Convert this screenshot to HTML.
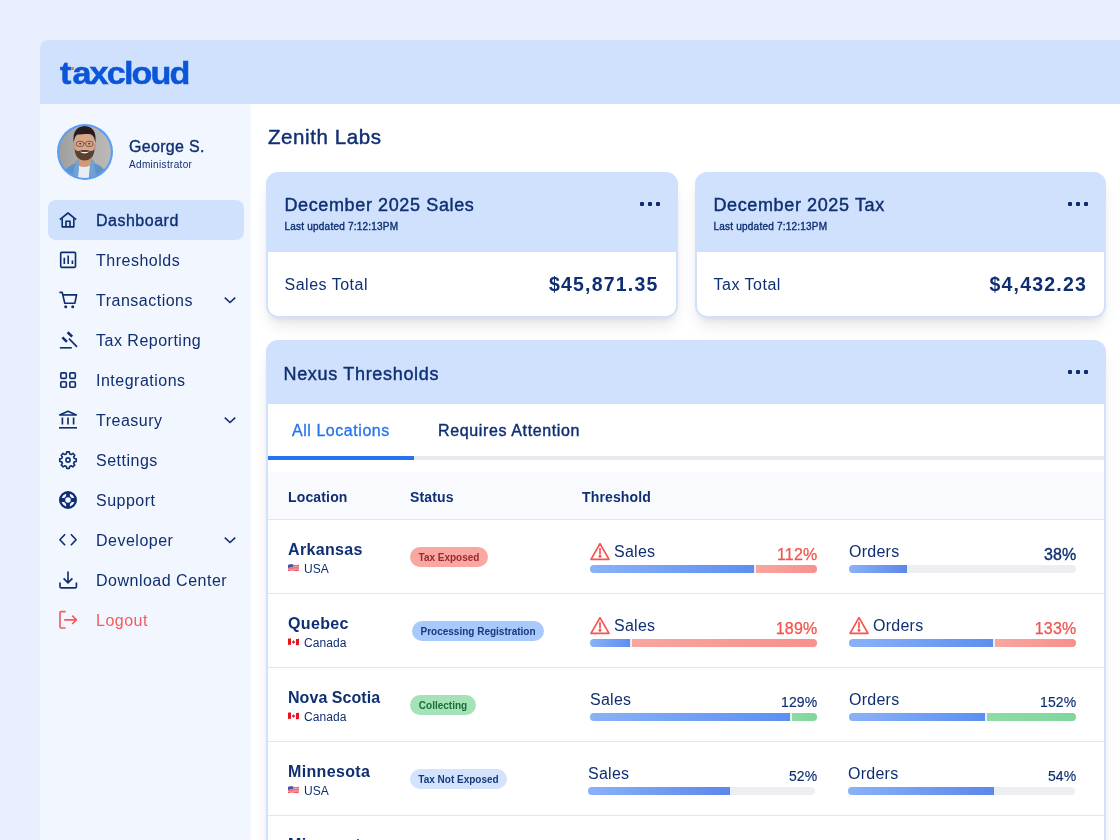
<!DOCTYPE html>
<html lang="en">
<head>
<meta charset="utf-8">
<title>TaxCloud Dashboard</title>
<style>
*{box-sizing:border-box;margin:0;padding:0}
html,body{width:1120px;height:840px;overflow:hidden}
body{background:#e9effe;font-family:"Liberation Sans",Arial,sans-serif;color:#0f2f72;position:relative}
.abs{position:absolute}
#logo::first-letter{letter-spacing:1px}
.t{position:absolute;white-space:nowrap;line-height:1}
.m{-webkit-text-stroke:0.35px currentColor}
.m2{-webkit-text-stroke:0.42px currentColor}
.app{will-change:transform;filter:blur(.3px);position:absolute;left:40px;top:40px;width:1100px;height:820px;background:#fff;border-top-left-radius:8px;overflow:hidden}
.hdr{position:absolute;left:0;top:0;width:1100px;height:64px;background:#cfe1fd}
.side{position:absolute;left:0;top:64px;width:212px;height:760px;background:linear-gradient(90deg,#f2f6fe 209px,#fff 212.5px)}
.nav{position:absolute;left:8px;width:196px;height:40px;border-radius:8px}
.nav.on{background:#cfe1fd}
.nav .lbl{position:absolute;left:48px;top:13px;font-size:16px;line-height:1;white-space:nowrap;letter-spacing:.5px}
.nav svg.ic{position:absolute;left:10px;top:10px;width:20px;height:20px;fill:none;stroke:#0f2f72;stroke-width:1.65;stroke-linecap:butt;stroke-linejoin:round}
.nav svg.ch{position:absolute;left:176.2px;top:16px;width:12px;height:8px;fill:none;stroke:#0f2f72;stroke-width:1.6;stroke-linecap:butt;stroke-linejoin:miter}

.card{position:absolute;background:#fff;border:2px solid #cfe1fd;border-radius:12px;overflow:hidden;box-shadow:0 10px 15px -3px rgba(0,0,0,.1),0 4px 6px -4px rgba(0,0,0,.1)}
.chd{position:absolute;left:0;top:0;right:0;background:#cfe1fd}
.dots{position:absolute;width:22px;height:4px}
.dots i{position:absolute;top:0;width:4px;height:4px;border-radius:1px;background:#0c2a6c}
.dots i:nth-child(1){left:0}.dots i:nth-child(2){left:8px}.dots i:nth-child(3){left:16px}
.th{font-size:14px;font-weight:bold;letter-spacing:.15px}
.row{position:absolute;left:0;width:836px;height:74px;border-bottom:1px solid #e4e6eb}
.loc{left:20px;top:22.1px;font-size:16px;font-weight:bold;letter-spacing:.35px}
.cty{left:20px;top:42.5px;font-size:12px;letter-spacing:.1px}
.flag{width:11px;height:7.6px;margin-right:5px;vertical-align:.6px}
.bdg{position:absolute;top:27px;height:20px;border-radius:10px;font-size:10px;font-weight:bold;line-height:20px;padding-top:1px;text-align:center;white-space:nowrap}
.bdg.red{background:#f9a7a3;color:#9a2a2c}
.bdg.blu{background:#a9c8fb;color:#173a7c}
.bdg.grn{background:#a4e3b8;color:#1b6b3b}
.bdg.lbl2{background:#d3e3fd;color:#173a7c}
.warn{position:absolute;width:20px;height:19px;fill:none;stroke:#f4564f;stroke-width:1.7;stroke-linejoin:round;stroke-linecap:round}
.ml{top:24px;font-size:16px;letter-spacing:.25px}
.pr{top:26.5px;font-size:16px;letter-spacing:.2px}
.pr.r{color:#f2534e;-webkit-text-stroke:.25px #f2534e}
.pr.mb{-webkit-text-stroke:.35px currentColor}
.pr.s{font-size:14px;top:27px;-webkit-text-stroke:.15px currentColor}
.bar{position:absolute;top:45px;height:8px;border-radius:4px;background:#eceef2;overflow:hidden}
.bar b{position:absolute;top:0;height:8px}
.bar .bl{background:linear-gradient(90deg,#8ab2f8,#5c8ff0)}
.bar .bl.e{background:linear-gradient(90deg,#8ab2f8,#5c86ea)}
.bar .rd{background:linear-gradient(90deg,#f7a6a0,#f8908c)}
.bar .gn{background:linear-gradient(90deg,#8edba7,#7fd69c)}
</style>
</head>
<body>
<div class="app">
  <div class="hdr">
    <!-- logo -->
    <div class="t" id="logo" style="left:20px;top:16.6px;font-size:32px;font-weight:bold;color:#0b55d9;letter-spacing:-1.7px;transform:scaleX(1.066);transform-origin:0 0;-webkit-text-stroke:.5px #0b55d9">taxcloud</div>
    <div class="abs" style="left:30.6px;top:26.6px;width:3.8px;height:3.6px;border-radius:1px;background:#f47a20"></div>
  </div>
  <div class="side">
    <!-- avatar -->
    <svg class="abs" style="left:17px;top:20px" width="56" height="56" viewBox="0 0 56 56">
      <defs><clipPath id="av"><circle cx="28" cy="28" r="25.9"/></clipPath>
      <linearGradient id="avbg" x1="0" x2="1" y1="0" y2="0"><stop offset="0" stop-color="#9b9b9a"/><stop offset=".45" stop-color="#aeaeac"/><stop offset="1" stop-color="#bcbbb8"/></linearGradient>
      <filter id="avb" x="-5%" y="-5%" width="110%" height="110%"><feGaussianBlur stdDeviation=".55"/></filter></defs>
      <circle cx="28" cy="28" r="28" fill="#5c9cf7"/>
      <g clip-path="url(#av)"><g filter="url(#avb)">
        <rect x="-2" y="-2" width="60" height="60" fill="url(#avbg)"/>
        <path d="M4 58 C5 46 10 43 18 39.5 L21 35 L35 35 L38 39.5 C45 42 50 46 51 58 Z" fill="#5f93c8"/>
        <path d="M19.5 41 L21 58 L31.5 58 L33 41 Z" fill="#e9edf2"/>
        <path d="M20 34 L34.5 34 L34.5 41 Q27 45 20 41 Z" fill="#cf9a79"/>
        <path d="M18.5 39 L21.5 35 L22 45 L20.5 58 L14 58 Z" fill="#6fa2d4"/>
        <path d="M37 39 L34 35 L33 45 L32 58 L40 58 Z" fill="#6fa2d4"/>
        <ellipse cx="27.6" cy="21" rx="10.2" ry="13.4" fill="#d9a688"/>
        <ellipse cx="17.2" cy="22" rx="1.3" ry="2.6" fill="#cf987a"/>
        <ellipse cx="38" cy="22" rx="1.3" ry="2.6" fill="#cf987a"/>
        <path d="M17.6 24 C17.8 33 22 36.4 27.6 36.4 C33.2 36.4 37.4 33 37.6 24 C36 28 34.5 27 31.5 26.4 C29 26 26 26 23.5 26.4 C20.6 27 19.2 28 17.6 24 Z" fill="#5b3f30"/>
        <path d="M22.6 27.4 Q27.6 31.6 32.6 27.4 Q27.6 28.6 22.6 27.4 Z" fill="#f3efec"/>
        <path d="M16.8 19 C15 7 21 2 27.6 2 C34.6 2 40 7 38.4 19 C37.6 13.5 36 10.4 32 10 C28 9.6 24 10.6 21 10.6 C18.6 11 17.4 14 16.8 19 Z" fill="#2c1f1a"/>
        <rect x="19.4" y="17.4" width="7.4" height="5" rx="2.2" fill="none" stroke="#5a4a42" stroke-width=".8"/>
        <rect x="28.6" y="17.4" width="7.4" height="5" rx="2.2" fill="none" stroke="#5a4a42" stroke-width=".8"/>
        <path d="M26.8 19.4 H28.6" stroke="#5a4a42" stroke-width=".7"/>
        <ellipse cx="23.2" cy="19.8" rx="1.1" ry=".8" fill="#3a2a22"/>
        <ellipse cx="32.2" cy="19.8" rx="1.1" ry=".8" fill="#3a2a22"/>
      </g></g>
    </svg>
    <div class="t m" style="left:89px;top:35px;font-size:16px;letter-spacing:.3px">George S.</div>
    <div class="t" style="left:89px;top:56.3px;font-size:10px;letter-spacing:.33px">Administrator</div>

    <!-- NAV -->
    <div class="nav on" style="top:96px"><svg class="ic" viewBox="0 0 20 20"><path d="M1.8 9.6 L10 3 L18.2 9.6"/><path d="M4.2 8.2 V16.8 H15.8 V8.2"/><path d="M8 16.8 V11.2 H12 V16.8"/></svg><span class="lbl m">Dashboard</span></div>
    <div class="nav" style="top:136px"><svg class="ic" viewBox="0 0 20 20"><rect x="2.7" y="2.3" width="14.8" height="15" rx="1"/><path d="M6.3 14 V7.8 M10.2 14 V5.4 M14.4 14 V10.6"/></svg><span class="lbl">Thresholds</span></div>
    <div class="nav" style="top:176px"><svg class="ic" viewBox="0 0 20 20"><path d="M1.4 2.4 H4.2 L6.8 13.2 H16.9 L18.5 4.9 H5"/><circle cx="7.7" cy="16.7" r="1.5" fill="#0f2f72" stroke="none"/><circle cx="14.7" cy="16.7" r="1.5" fill="#0f2f72" stroke="none"/></svg><span class="lbl">Transactions</span><svg class="ch" viewBox="0 0 12 8"><path d="M.8 1.6 L6 6.5 L11.2 1.6"/></svg></div>
    <div class="nav" style="top:216px"><svg class="ic" viewBox="0 0 20 20"><path d="M1.9 17.8 H13.8"/><path d="M9.6 2.2 L14.2 6.6 M4.4 7.4 L8.9 11.9" stroke-width="2.6"/><path d="M11 8.6 L19 16.8"/></svg><span class="lbl">Tax Reporting</span></div>
    <div class="nav" style="top:256px"><svg class="ic" viewBox="0 0 20 20"><rect x="2.8" y="2.8" width="5.5" height="5.5" rx="1"/><rect x="11.8" y="2.8" width="5.5" height="5.5" rx="1"/><rect x="2.8" y="11.7" width="5.5" height="5.5" rx="1"/><rect x="11.8" y="11.7" width="5.5" height="5.5" rx="1"/></svg><span class="lbl">Integrations</span></div>
    <div class="nav" style="top:296px"><svg class="ic" viewBox="0 0 20 20"><path d="M1.6 5 L10 1.2 L18.4 5 Z" stroke-width="1.5"/><path d="M4.4 7.6 V14.6 M10 7.6 V14.6 M15.6 7.6 V14.6"/><path d="M1 17.8 H19"/></svg><span class="lbl">Treasury</span><svg class="ch" viewBox="0 0 12 8"><path d="M.8 1.6 L6 6.5 L11.2 1.6"/></svg></div>
    <div class="nav" style="top:336px"><svg class="ic" viewBox="0 0 20 20" style="stroke-width:1.6"><circle cx="10" cy="10" r="2.1"/><path d="M8.7 1.9 h2.6 l.4 2 1.5 .65 1.7 -1.15 1.85 1.85 -1.15 1.7 .65 1.5 2 .4 v2.6 l-2 .4 -.65 1.5 1.15 1.7 -1.85 1.85 -1.7 -1.15 -1.5 .65 -.4 2 h-2.6 l-.4 -2 -1.5 -.65 -1.7 1.15 -1.85 -1.85 1.15 -1.7 -.65 -1.5 -2 -.4 v-2.6 l2 -.4 .65 -1.5 -1.15 -1.7 1.85 -1.85 1.7 1.15 1.5 -.65 z"/></svg><span class="lbl">Settings</span></div>
    <div class="nav" style="top:376px"><svg class="ic" viewBox="0 0 20 20"><circle cx="10" cy="10" r="7.8" stroke-width="2.4"/><circle cx="10" cy="10" r="3.5" stroke-width="1.5"/><path d="M10 2.4 V6.6 M10 13.4 V17.6 M2.4 10 H6.6 M13.4 10 H17.6" stroke-width="3.8"/></svg><span class="lbl">Support</span></div>
    <div class="nav" style="top:416px"><svg class="ic" viewBox="0 0 20 20"><path d="M7.1 4.3 L1.9 9.8 L7.1 15.2 M12.9 4.3 L18.1 9.8 L12.9 15.2"/></svg><span class="lbl">Developer</span><svg class="ch" viewBox="0 0 12 8"><path d="M.8 1.6 L6 6.5 L11.2 1.6"/></svg></div>
    <div class="nav" style="top:456px"><svg class="ic" viewBox="0 0 20 20"><path d="M10 1.4 V12.4 M5.6 8.4 L10 12.8 L14.4 8.4"/><path d="M2 12.4 V16.8 Q2 17.8 3 17.8 H17.4 Q18.4 17.8 18.4 16.8 V12.4"/></svg><span class="lbl">Download Center</span></div>
    <div class="nav" style="top:496px;color:#f25d5b"><svg class="ic" style="stroke:#f25d5b" viewBox="0 0 20 20"><path d="M7.6 1.6 H3 Q2 1.6 2 2.6 V17 Q2 18 3 18 H7.6"/><path d="M6.2 9.8 H18.2 M14.2 5.6 L18.4 9.8 L14.2 14"/></svg><span class="lbl">Logout</span></div>
  </div>

  <!-- MAIN -->
  <div id="main" class="abs" style="left:212px;top:64px;width:888px;height:760px">
    <div class="t m2" style="left:16px;top:22.5px;font-size:20.5px;letter-spacing:.6px">Zenith Labs</div>

    <!-- Card 1 -->
    <div class="card" style="left:14px;top:68px;width:412px;height:146px;background:linear-gradient(#cfe1fd 0,#cfe1fd 78px,#fff 78px)">
      <div class="chd" style="height:78px"></div>
      <div class="t m2" style="left:16.5px;top:22.4px;font-size:18px;letter-spacing:.62px">December 2025 Sales</div>
      <div class="t m" style="left:16.5px;top:48.4px;font-size:10px;letter-spacing:.22px">Last updated 7:12:13PM</div>
      <div class="dots" style="left:372px;top:28px"><i></i><i></i><i></i></div>
      <div class="t" style="left:16.5px;top:102.8px;font-size:16px;letter-spacing:.5px">Sales Total</div>
      <div class="t" style="right:17.5px;top:101px;font-size:19.5px;font-weight:bold;letter-spacing:1.2px">$45,871.35</div>
    </div>
    <!-- Card 2 -->
    <div class="card" style="left:443px;top:68px;width:411px;height:146px;background:linear-gradient(#cfe1fd 0,#cfe1fd 78px,#fff 78px)">
      <div class="chd" style="height:78px"></div>
      <div class="t m2" style="left:16.5px;top:22.4px;font-size:18px;letter-spacing:.62px">December 2025 Tax</div>
      <div class="t m" style="left:16.5px;top:48.4px;font-size:10px;letter-spacing:.22px">Last updated 7:12:13PM</div>
      <div class="dots" style="left:371px;top:28px"><i></i><i></i><i></i></div>
      <div class="t" style="left:16.5px;top:102.8px;font-size:16px;letter-spacing:.5px">Tax Total</div>
      <div class="t" style="right:17px;top:101px;font-size:19.5px;font-weight:bold;letter-spacing:1.2px">$4,432.23</div>
    </div>

    <!-- Nexus card -->
    <div class="card" style="left:14px;top:236px;width:840px;height:560px;background:linear-gradient(#cfe1fd 0,#cfe1fd 62px,#fff 62px)">
      <div class="chd" style="height:62px"></div>
      <div class="t m2" style="left:15.5px;top:22.5px;font-size:18px;letter-spacing:.68px">Nexus Thresholds</div>
      <div class="dots" style="left:800px;top:27.5px"><i></i><i></i><i></i></div>

      <div class="t" style="left:24px;top:80.5px;font-size:16px;color:#2673f0;letter-spacing:.55px;-webkit-text-stroke:.3px #2673f0">All Locations</div>
      <div class="t m2" style="left:170px;top:80.5px;font-size:16px;letter-spacing:.63px">Requires Attention</div>
      <div class="abs" style="left:0;top:114px;width:840px;height:4px;background:#e7e9ee"></div>
      <div class="abs" style="left:0;top:114px;width:146px;height:4px;background:#2673f0"></div>

      <div class="abs" style="left:0;top:130px;width:840px;height:48px;background:#f8fafd;border-bottom:1px solid #e4e6eb"></div>
      <div class="t th" style="left:20px;top:147.5px">Location</div>
      <div class="t th" style="left:142px;top:147.5px">Status</div>
      <div class="t th" style="left:314px;top:147.5px">Threshold</div>

      <!-- row 1 -->
      <div class="row" style="top:178px">
        <div class="t loc">Arkansas</div>
        <div class="t cty"><svg class="flag" viewBox="0 0 12 8"><path d="M0 1 C2 .1 4 .1 6 .7 S10 1.3 12 .3 V7 C10 8 8 7.7 6 7.2 S2 6.8 0 7.8 Z" fill="#e8505f"/><path d="M5.4 2.2 C7.5 2.6 10 2.7 12 1.9 M0 4.4 C2 3.6 4 3.6 6 4.1 S10 4.7 12 3.8 M0 6.1 C2 5.3 4 5.3 6 5.8 S10 6.4 12 5.5" stroke="#f6dfe2" stroke-width=".7" fill="none"/><path d="M0 1 C2 .1 3.6 .1 5.4 .6 V3.7 C3.6 3.3 2 3.3 0 4.1 Z" fill="#3c5ca8"/></svg>USA</div>
        <div class="bdg red" style="left:142px;width:78px">Tax Exposed</div>
        <svg class="warn" style="left:322px;top:21.8px" viewBox="0 0 20 19"><path d="M10 1.7 L19 17.3 H1 Z"/><path d="M10 6.6 V11.8"/><circle cx="10" cy="14.3" r=".7" fill="#f4564f"/></svg>
        <div class="t ml" style="left:346px">Sales</div>
        <div class="t pr r" style="right:286.5px">112%</div>
        <div class="bar" style="left:322px;width:227px"><b class="bl" style="left:0;width:164px"></b><b class="rd" style="left:166px;right:0"></b></div>
        <div class="t ml" style="left:581px">Orders</div>
        <div class="t pr mb" style="right:27.5px">38%</div>
        <div class="bar" style="left:581px;width:227px"><b class="bl e" style="left:0;width:58px"></b></div>
      </div>
      <!-- row 2 -->
      <div class="row" style="top:252px">
        <div class="t loc">Quebec</div>
        <div class="t cty"><svg class="flag" viewBox="0 0 12 8"><path d="M0 .8 C1.2 .2 2.2 .2 3.3 .5 V7.4 C2.2 7.1 1.2 7.1 0 7.7 Z" fill="#e4151f"/><path d="M8.7 .9 C9.8 1.2 10.8 1 12 .4 V7.2 C10.8 7.8 9.8 8 8.7 7.7 Z" fill="#e4151f"/><path d="M6 2 L6.9 3.6 L7.9 3.4 L7.2 5.2 H6.35 V6.4 H5.65 V5.2 H4.8 L4.1 3.4 L5.1 3.6 Z" fill="#e4151f"/></svg>Canada</div>
        <div class="bdg blu" style="left:144px;width:132px">Processing Registration</div>
        <svg class="warn" style="left:322px;top:21.8px" viewBox="0 0 20 19"><path d="M10 1.7 L19 17.3 H1 Z"/><path d="M10 6.6 V11.8"/><circle cx="10" cy="14.3" r=".7" fill="#f4564f"/></svg>
        <div class="t ml" style="left:346px">Sales</div>
        <div class="t pr r" style="right:286.5px">189%</div>
        <div class="bar" style="left:322px;width:227px"><b class="bl" style="left:0;width:40px"></b><b class="rd" style="left:42px;right:0"></b></div>
        <svg class="warn" style="left:581px;top:21.8px" viewBox="0 0 20 19"><path d="M10 1.7 L19 17.3 H1 Z"/><path d="M10 6.6 V11.8"/><circle cx="10" cy="14.3" r=".7" fill="#f4564f"/></svg>
        <div class="t ml" style="left:605px">Orders</div>
        <div class="t pr r" style="right:27.5px">133%</div>
        <div class="bar" style="left:581px;width:227px"><b class="bl" style="left:0;width:144px"></b><b class="rd" style="left:146px;right:0"></b></div>
      </div>
      <!-- row 3 -->
      <div class="row" style="top:326px">
        <div class="t loc" style="letter-spacing:.05px">Nova Scotia</div>
        <div class="t cty"><svg class="flag" viewBox="0 0 12 8"><path d="M0 .8 C1.2 .2 2.2 .2 3.3 .5 V7.4 C2.2 7.1 1.2 7.1 0 7.7 Z" fill="#e4151f"/><path d="M8.7 .9 C9.8 1.2 10.8 1 12 .4 V7.2 C10.8 7.8 9.8 8 8.7 7.7 Z" fill="#e4151f"/><path d="M6 2 L6.9 3.6 L7.9 3.4 L7.2 5.2 H6.35 V6.4 H5.65 V5.2 H4.8 L4.1 3.4 L5.1 3.6 Z" fill="#e4151f"/></svg>Canada</div>
        <div class="bdg grn" style="left:142px;width:66px">Collecting</div>
        <div class="t ml" style="left:322px">Sales</div>
        <div class="t pr s" style="right:286.5px">129%</div>
        <div class="bar" style="left:322px;width:227px"><b class="bl" style="left:0;width:200px"></b><b class="gn" style="left:202px;right:0"></b></div>
        <div class="t ml" style="left:581px">Orders</div>
        <div class="t pr s" style="right:27.5px">152%</div>
        <div class="bar" style="left:581px;width:227px"><b class="bl" style="left:0;width:136px"></b><b class="gn" style="left:138px;right:0"></b></div>
      </div>
      <!-- row 4 -->
      <div class="row" style="top:400px">
        <div class="t loc">Minnesota</div>
        <div class="t cty"><svg class="flag" viewBox="0 0 12 8"><path d="M0 1 C2 .1 4 .1 6 .7 S10 1.3 12 .3 V7 C10 8 8 7.7 6 7.2 S2 6.8 0 7.8 Z" fill="#e8505f"/><path d="M5.4 2.2 C7.5 2.6 10 2.7 12 1.9 M0 4.4 C2 3.6 4 3.6 6 4.1 S10 4.7 12 3.8 M0 6.1 C2 5.3 4 5.3 6 5.8 S10 6.4 12 5.5" stroke="#f6dfe2" stroke-width=".7" fill="none"/><path d="M0 1 C2 .1 3.6 .1 5.4 .6 V3.7 C3.6 3.3 2 3.3 0 4.1 Z" fill="#3c5ca8"/></svg>USA</div>
        <div class="bdg lbl2" style="left:142px;width:97px">Tax Not Exposed</div>
        <div class="t ml" style="left:320px">Sales</div>
        <div class="t pr s" style="right:286.5px">52%</div>
        <div class="bar" style="left:320px;width:227px"><b class="bl e" style="left:0;width:142px"></b></div>
        <div class="t ml" style="left:580px">Orders</div>
        <div class="t pr s" style="right:27.5px">54%</div>
        <div class="bar" style="left:580px;width:227px"><b class="bl e" style="left:0;width:146px"></b></div>
      </div>
      <!-- row 5 (clipped) -->
      <div class="row" style="top:474px">
        <div class="t loc" style="top:21.3px">Minnesota</div>
      </div>
    </div>
  </div>
</div>
</body>
</html>
